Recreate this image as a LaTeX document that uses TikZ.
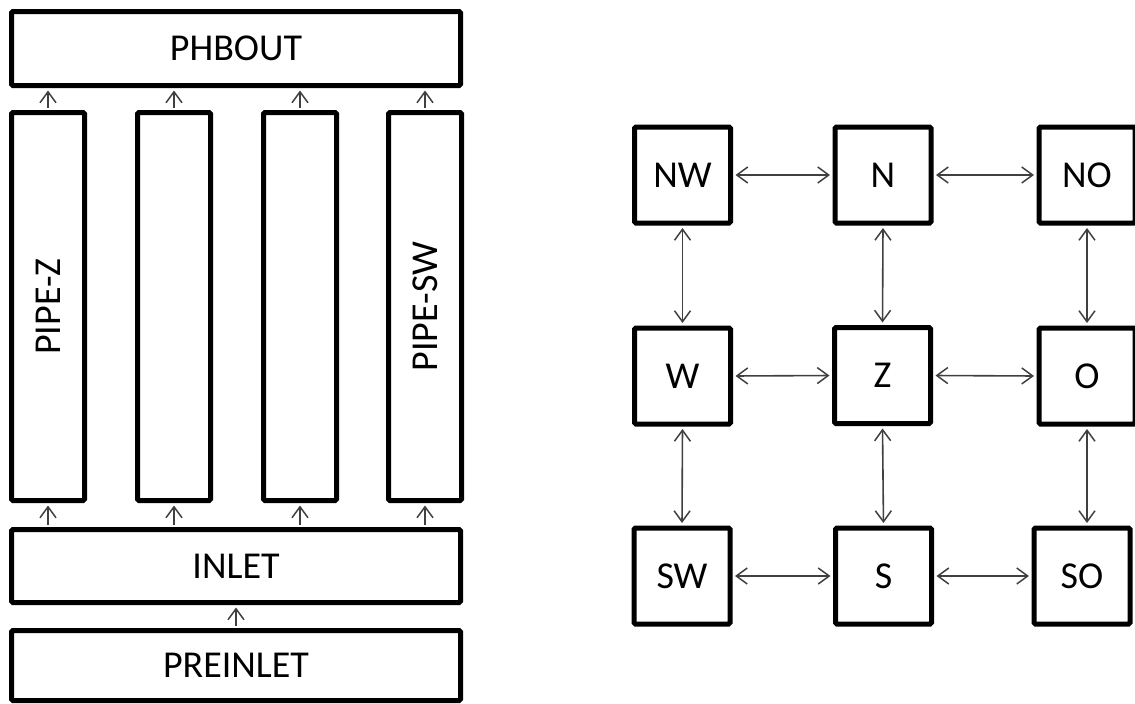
\documentclass[tikz,border=0pt]{standalone}
\usepackage{fontspec}
\setmainfont{Carlito}
\usetikzlibrary{arrows.meta}
\begin{document}
\begin{tikzpicture}[x=1pt,y=-1pt,
  box/.style={draw=black,line width=5pt,rounded corners=1.5pt,fill=white,inner sep=0pt,
    font=\fontsize{38}{45}\selectfont},
  wide/.style={box,minimum width=449pt},
  pipe/.style={box,minimum width=388pt,minimum height=73pt,rotate=90},
  cell/.style={box,minimum width=96pt,minimum height=96pt},
  tip/.tip={Straight Barb[length=11pt,width=16pt,line width=1.5pt]},
  arr/.style={draw=black!75,line width=1.6pt,-tip,shorten >=2.5pt,shorten <=2.5pt},
  darr/.style={arr,tip-tip}]
\useasboundingbox (0,0) rectangle (1135,704);
% left part
\node[wide,minimum height=74pt] (phb) at (236,48.5) {PHBOUT};
\node[pipe] (p1) at (48,306.5) {PIPE-Z};
\node[pipe] (p2) at (174,306.5) {};
\node[pipe] (p3) at (300,306.5) {};
\node[pipe] (p4) at (425,306.5) {PIPE-SW};
\node[wide,minimum height=73pt] (inlet) at (236,566) {INLET};
\node[wide,minimum height=70pt] (pre) at (236,665.5) {PREINLET};
\foreach \p in {p1,p2,p3,p4}{
  \draw[arr] (\p.east) -- (\p.east |- phb.south);
  \draw[arr] (\p.west |- inlet.north) -- (\p.west);
}
\draw[arr] (pre.north) -- (inlet.south);
% right grid
\node[cell] (NW) at (682.5,175) {NW};
\node[cell] (N)  at (883,175) {N};
\node[cell] (NO) at (1087,175) {NO};
\node[cell] (W)  at (682.5,376) {W};
\node[cell] (Z)  at (882.5,375.5) {Z};
\node[cell] (O)  at (1087,376) {O};
\node[cell] (SW) at (682,576) {SW};
\node[cell] (S)  at (883.5,576) {S};
\node[cell] (SO) at (1082,576) {SO};
\draw[darr] (NW.east) -- (N.west);
\draw[darr] (N.east) -- (NO.west);
\draw[darr] (W.east) -- (Z.west);
\draw[darr] (Z.east) -- (O.west);
\draw[darr] (SW.east) -- (S.west);
\draw[darr] (S.east) -- (SO.west);
\draw[darr] (NW.south) -- (W.north);
\draw[darr] (W.south) -- (SW.north);
\draw[darr] (N.south) -- (Z.north);
\draw[darr] (Z.south) -- (S.north);
\draw[darr] (NO.south) -- (O.north);
\draw[darr] (O.south) -- (O.south |- SO.north);
\end{tikzpicture}
\end{document}
